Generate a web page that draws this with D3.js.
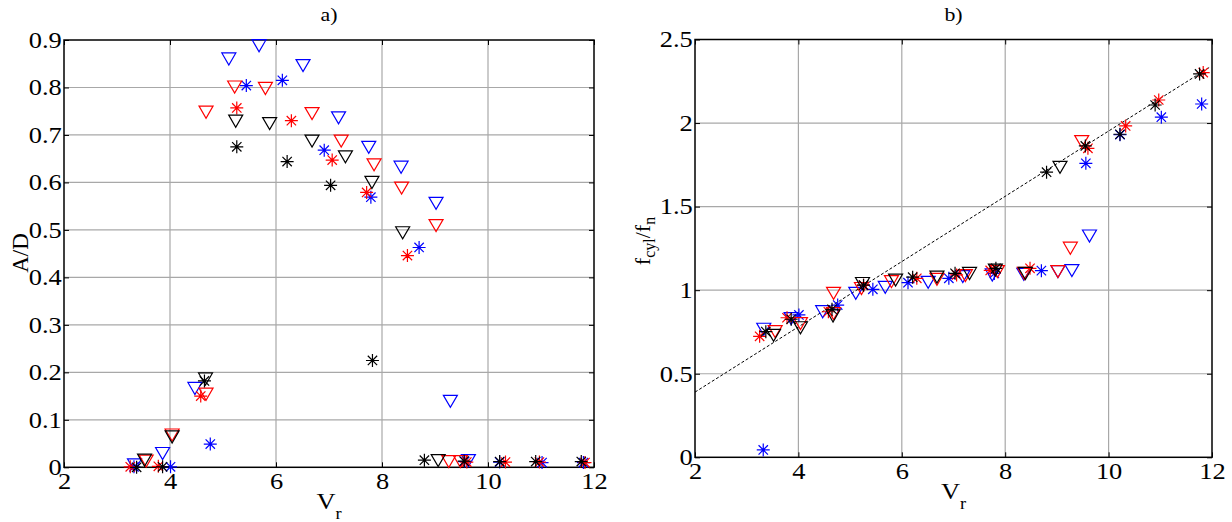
<!DOCTYPE html>
<html>
<head>
<meta charset="utf-8">
<script src="https://cdn.jsdelivr.net/npm/d3@7"></script>
<style>
  body { margin: 0; background: #fff; }
  svg text { font-family: "Liberation Serif", "Times New Roman", "DejaVu Serif", serif; fill: #000; }
</style>
</head>
<body>
<div id="chart"></div>
<script>
// --- Ticks ---
const vrTicks = [2, 4, 6, 8, 10, 12];
const adTicks = [0, 0.1, 0.2, 0.3, 0.4, 0.5, 0.6, 0.7, 0.8, 0.9];
const adTickLabels = ["0", "0.1", "0.2", "0.3", "0.4", "0.5", "0.6", "0.7", "0.8", "0.9"];
const ffTicks = [0, 0.5, 1, 1.5, 2, 2.5];
const ffTickLabels = ["0", "0.5", "1", "1.5", "2", "2.5"];

// --- Dashed reference line (panel b) ---
const fitVr = [2, 11.96];
const fitFf = [0.39, 2.335];

// --- Blue, asterisk ---
const vrBlueStar = [3.32, 4.01, 4.76, 5.44, 6.12, 6.91, 7.79, 8.70, 9.56, 10.22, 11.02, 11.80];
const adBlueStar = [0.001, 0.001, 0.049, 0.804, 0.815, 0.668, 0.569, 0.463, 0.012, 0.011, 0.010, 0.010];
const ffBlueStar = [0.044, 0.852, 0.911, 1.005, 1.045, 1.071, 1.10, 1.117, 1.759, 1.93, 2.035, 2.114];

// --- Blue, triangle ---
const vrBlueTri = [3.33, 3.86, 4.47, 5.11, 5.68, 6.51, 7.18, 7.75, 8.36, 9.02, 9.29, 9.63];
const adBlueTri = [0.005, 0.029, 0.166, 0.86, 0.888, 0.846, 0.736, 0.674, 0.632, 0.556, 0.139, 0.014];
const ffBlueTri = [0.766, 0.83, 0.871, 0.981, 1.017, 1.047, 1.081, 1.091, 1.095, 1.111, 1.117, 1.324];

// --- Red, asterisk ---
const vrRedStar = [3.25, 3.78, 4.58, 5.26, 6.29, 7.06, 7.71, 8.48, 9.60, 10.33, 10.97, 11.83];
const adRedStar = [0.001, 0.002, 0.150, 0.757, 0.730, 0.647, 0.579, 0.446, 0.011, 0.011, 0.011, 0.010];
const ffRedStar = [0.724, 0.835, 0.871, 1.03, 1.071, 1.091, 1.118, 1.131, 1.849, 1.983, 2.138, 2.302];

// --- Red, triangle ---
const vrRedTri = [3.55, 4.04, 4.68, 4.68, 5.22, 5.80, 6.68, 7.23, 7.85, 8.37, 9.02, 9.26, 9.48];
const adRedTri = [0.013, 0.068, 0.748, 0.154, 0.801, 0.798, 0.745, 0.687, 0.637, 0.588, 0.509, 0.012, 0.012];
const ffRedTri = [0.752, 0.80, 0.981, 0.86, 1.01, 1.051, 1.065, 1.087, 1.111, 1.10, 1.111, 1.251, 1.889];

// --- Black, asterisk ---
const vrBlackStar = [3.37, 3.86, 4.65, 5.26, 6.21, 7.03, 7.82, 8.80, 9.55, 10.22, 10.90, 11.76];
const adBlackStar = [0.0, 0.001, 0.182, 0.675, 0.644, 0.594, 0.225, 0.015, 0.013, 0.012, 0.012, 0.012];
const ffBlackStar = [0.752, 0.826, 0.886, 1.03, 1.078, 1.101, 1.131, 1.706, 1.863, 1.933, 2.108, 2.294];

// --- Black, triangle ---
const vrBlackTri = [3.52, 4.04, 4.67, 5.24, 5.88, 6.68, 7.31, 7.81, 8.39, 9.06];
const adBlackTri = [0.015, 0.064, 0.186, 0.729, 0.724, 0.687, 0.654, 0.600, 0.494, 0.014];
const ffBlackTri = [0.73, 0.775, 0.846, 1.04, 1.06, 1.078, 1.10, 1.12, 1.10, 1.735];

const series = [
  { color: "#0000ff", marker: "tri",  vr: vrBlueTri,  ad: adBlueTri,  ff: ffBlueTri },
  { color: "#0000ff", marker: "star", vr: vrBlueStar, ad: adBlueStar, ff: ffBlueStar },
  { color: "#ff0000", marker: "tri",  vr: vrRedTri,   ad: adRedTri,   ff: ffRedTri },
  { color: "#ff0000", marker: "star", vr: vrRedStar,  ad: adRedStar,  ff: ffRedStar },
  { color: "#000000", marker: "tri",  vr: vrBlackTri, ad: adBlackTri, ff: ffBlackTri },
  { color: "#000000", marker: "star", vr: vrBlackStar, ad: adBlackStar, ff: ffBlackStar }
];

const SERIF = '"Liberation Serif", "Times New Roman", "DejaVu Serif", serif';

// --- Marker shapes (centered on the point) ---
const triDown = {
  draw(ctx, size) {
    const w = Math.sqrt(size), h = w * 0.86;
    ctx.moveTo(-w / 2, -h / 2);
    ctx.lineTo(w / 2, -h / 2);
    ctx.lineTo(0, h / 2);
    ctx.closePath();
  }
};
const asterisk = {
  draw(ctx, size) {
    const r = Math.sqrt(size) / 2, d = r * 0.72;
    ctx.moveTo(-r, 0); ctx.lineTo(r, 0);
    ctx.moveTo(0, -r); ctx.lineTo(0, r);
    ctx.moveTo(-d, -d); ctx.lineTo(d, d);
    ctx.moveTo(-d, d); ctx.lineTo(d, -d);
  }
};
const triPath = d3.symbol(triDown, 196)();
const starPath = d3.symbol(asterisk, 169)();

// --- SVG ---
const W = 1232, H = 522;
const svg = d3.select("#chart").append("svg")
  .attr("width", W)
  .attr("height", H);

function drawPanel(opt) {
  const g = svg.append("g");
  const x = d3.scaleLinear().domain([2, 12]).range([opt.left, opt.right]);
  const y = d3.scaleLinear().domain([opt.yTicks[0], opt.yTicks[opt.yTicks.length - 1]])
              .range([opt.bottom, opt.top]);

  // grid
  g.append("g").selectAll("line")
    .data(vrTicks.slice(1, -1))
    .join("line")
      .attr("x1", d => x(d)).attr("x2", d => x(d))
      .attr("y1", opt.top).attr("y2", opt.bottom)
      .attr("stroke", "#a8a8a8").attr("stroke-width", 1.2);
  g.append("g").selectAll("line")
    .data(opt.yTicks.slice(1, -1))
    .join("line")
      .attr("x1", opt.left).attr("x2", opt.right)
      .attr("y1", d => y(d)).attr("y2", d => y(d))
      .attr("stroke", "#a8a8a8").attr("stroke-width", 1.2);

  // axes (inward ticks on all four sides); labels a bit wider, as in the original figure
  const fontify = sel => sel.attr("font-family", null).attr("font-size", null)
    .selectAll("text")
      .style("font-family", SERIF)
      .style("font-size", "23px")
      .attr("transform", "scale(1.15,1)");
  g.append("g")
    .attr("transform", `translate(0,${opt.bottom})`)
    .call(d3.axisBottom(x).tickValues(vrTicks).tickSizeInner(-5).tickSizeOuter(0).tickPadding(5))
    .call(fontify);
  g.append("g")
    .attr("transform", `translate(0,${opt.top})`)
    .call(d3.axisTop(x).tickValues(vrTicks).tickSizeInner(-5).tickSizeOuter(0).tickFormat(""));
  g.append("g")
    .attr("transform", `translate(${opt.left},0)`)
    .call(d3.axisLeft(y).tickValues(opt.yTicks).tickSizeInner(-5).tickSizeOuter(0).tickPadding(2)
            .tickFormat((d, i) => opt.yLabels[i]))
    .call(fontify);
  g.append("g")
    .attr("transform", `translate(${opt.right},0)`)
    .call(d3.axisRight(y).tickValues(opt.yTicks).tickSizeInner(-5).tickSizeOuter(0).tickFormat(""));
  g.selectAll(".domain").remove();
  g.selectAll(".tick line").attr("stroke", "#000").attr("stroke-width", 1);

  g.append("rect")
    .attr("x", opt.left).attr("y", opt.top)
    .attr("width", opt.right - opt.left).attr("height", opt.bottom - opt.top)
    .attr("fill", "none").attr("stroke", "#000").attr("stroke-width", 1.5);

  // reference line
  if (opt.fit) {
    g.append("path")
      .datum(d3.zip(fitVr, fitFf))
      .attr("d", d3.line().x(d => x(d[0])).y(d => y(d[1])))
      .attr("fill", "none")
      .attr("stroke", "#000")
      .attr("stroke-width", 1)
      .attr("stroke-dasharray", "3,2");
  }

  // markers
  series.forEach(s => {
    const pts = d3.zip(s.vr, s[opt.key]);
    g.append("g").selectAll("path")
      .data(pts)
      .join("path")
        .attr("transform", d => `translate(${x(d[0])},${y(d[1])})`)
        .attr("d", s.marker === "tri" ? triPath : starPath)
        .attr("fill", "none")
        .attr("stroke", s.color)
        .attr("stroke-width", 1.2);
  });

  // title
  const cx = (opt.left + opt.right) / 2;
  g.append("text")
    .attr("transform", `translate(${cx},${opt.top - 19}) scale(1.15,1)`)
    .attr("text-anchor", "middle")
    .style("font-family", SERIF)
    .style("font-size", "19px")
    .text(opt.title);

  // x label V_r
  const xl = g.append("text")
    .attr("transform", `translate(${cx},${opt.bottom + 42}) scale(1.15,1)`)
    .attr("text-anchor", "middle")
    .style("font-family", SERIF)
    .style("font-size", "23px");
  xl.append("tspan").text("V");
  xl.append("tspan").attr("dy", 10).style("font-size", "16px").text("r");

  return { x, y, g };
}

// --- Panel a ---
const pa = drawPanel({
  left: 64, right: 594, top: 40, bottom: 467.3,
  yTicks: adTicks, yLabels: adTickLabels, key: "ad", title: "a)", fit: false
});
pa.g.append("text")
  .attr("transform", "translate(28,253) rotate(-90)")
  .attr("text-anchor", "middle")
  .style("font-family", SERIF)
  .style("font-size", "23px")
  .text("A/D");

// --- Panel b ---
const pb = drawPanel({
  left: 695, right: 1212, top: 39.5, bottom: 457.3,
  yTicks: ffTicks, yLabels: ffTickLabels, key: "ff", title: "b)", fit: true
});
const yl = pb.g.append("text")
  .attr("transform", "translate(650,241) rotate(-90)")
  .attr("text-anchor", "middle")
  .style("font-family", SERIF)
  .style("font-size", "22px");
yl.append("tspan").text("f");
yl.append("tspan").attr("dy", 5).style("font-size", "16px").text("cyl");
yl.append("tspan").attr("dy", -5).text("/f");
yl.append("tspan").attr("dy", 5).style("font-size", "16px").text("n");
</script>
</body>
</html>
